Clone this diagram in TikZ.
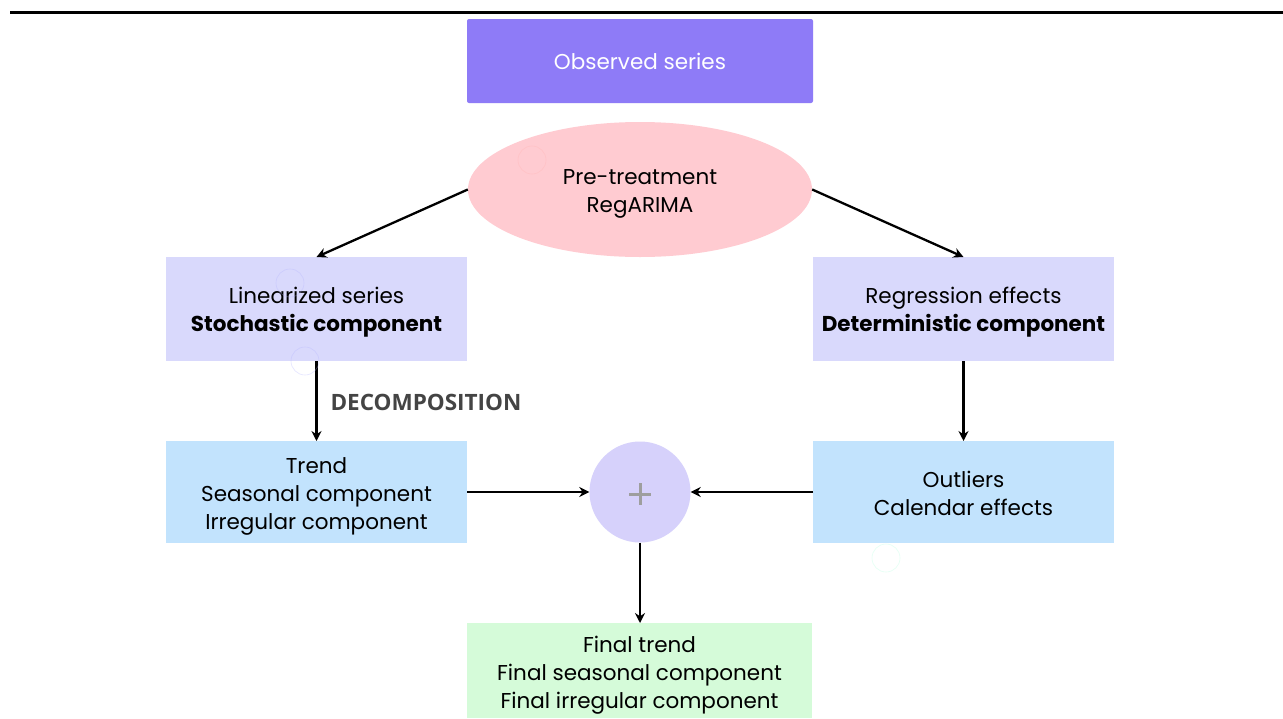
\documentclass[tikz,border=0pt]{standalone}
\usepackage{fontspec}
\setmainfont{Poppins}
\newfontfamily\labelfont{Open Sans}
\usetikzlibrary{shapes.geometric,arrows.meta}
\definecolor{obs}{HTML}{8E7BF7}
\definecolor{pink}{HTML}{FFCBD1}
\definecolor{lav}{HTML}{D9D9FC}
\definecolor{sky}{HTML}{C2E3FD}
\definecolor{plusc}{HTML}{D6D1FB}
\definecolor{mint}{HTML}{D5FBD9}
\definecolor{lblgray}{HTML}{444444}
\tikzset{
  px/.style={x=1pt,y=-1pt},
  boxbase/.style={inner sep=0pt, align=center, font=\fontsize{21.5}{28}\selectfont, text=black},
  conn/.style={line width=2.3pt, -{Stealth[length=10pt,width=10pt]}},
  ghost/.style={line width=0.6pt, opacity=0.35}
}
\begin{document}
\begin{tikzpicture}[px]
\useasboundingbox (0,0) rectangle (1283,718);
\fill[white] (0,0) rectangle (1283,718);
\draw[line width=3pt] (10,12) -- (1283,12);

\fill[obs, rounded corners=2pt] (467,19) rectangle (813,103);
\node[boxbase, text=white] (obs) at (640,61) {Observed series};

\node[ellipse, fill=pink, minimum width=344pt, minimum height=135pt, inner sep=0pt] (pre) at (640,189.5) {};
\node[boxbase] (pretext) at (640,193.5) {Pre-treatment\\RegARIMA};

\fill[lav] (166,257) rectangle (467,361);
\node[boxbase] (lin) at (316.5,312) {Linearized series\\\textbf{Stochastic component}};
\coordinate (linT) at (316.5,257);
\coordinate (linB) at (316.5,361);

\fill[lav] (813,257) rectangle (1114,361);
\node[boxbase] (reg) at (963.5,312) {Regression effects\\\textbf{Deterministic component}};
\coordinate (regT) at (963.5,257);
\coordinate (regB) at (963.5,361);

\fill[sky] (166,441) rectangle (467,543);
\node[boxbase] (trend) at (316.5,496) {Trend\\Seasonal component\\Irregular component};
\coordinate (trT) at (316.5,441);
\coordinate (trR) at (467,492);

\fill[sky] (813,441) rectangle (1114,543);
\node[boxbase] (out) at (963.5,493) {Outliers\\Calendar effects};
\coordinate (ouT) at (963.5,441);
\coordinate (ouL) at (813,492);

\node[circle, fill=plusc, minimum size=101pt, inner sep=0pt] (plus) at (640,492) {};
\draw[line width=3pt, black!38] (629,494) -- (651,494) (640,483) -- (640,505);

\fill[mint] (467,623) rectangle (812,718);
\node[boxbase] (fin) at (639.5,675) {Final trend\\Final seasonal component\\Final irregular component};
\coordinate (fiT) at (640,623);

\node[anchor=west, text=lblgray, font=\labelfont\bfseries\fontsize{22.5}{24}\selectfont] (dec) at (327,402) {DECOMPOSITION};

\draw[conn] (pre.west) -- (linT);
\draw[conn] (pre.east) -- (regT);
\draw[conn] (linB) -- (trT);
\draw[conn] (regB) -- (ouT);
\draw[conn] (trR) -- (plus.west);
\draw[conn] (ouL) -- (plus.east);
\draw[conn] (plus.south) -- (fiT);

\draw[ghost, draw=red!30] (532,160) circle (14);
\draw[ghost, draw=blue!30] (290,283) circle (14);
\draw[ghost, draw=blue!30] (305,361) circle (14);
\draw[ghost, draw=green!40!cyan!30] (886,558) circle (14);
\end{tikzpicture}
\end{document}
